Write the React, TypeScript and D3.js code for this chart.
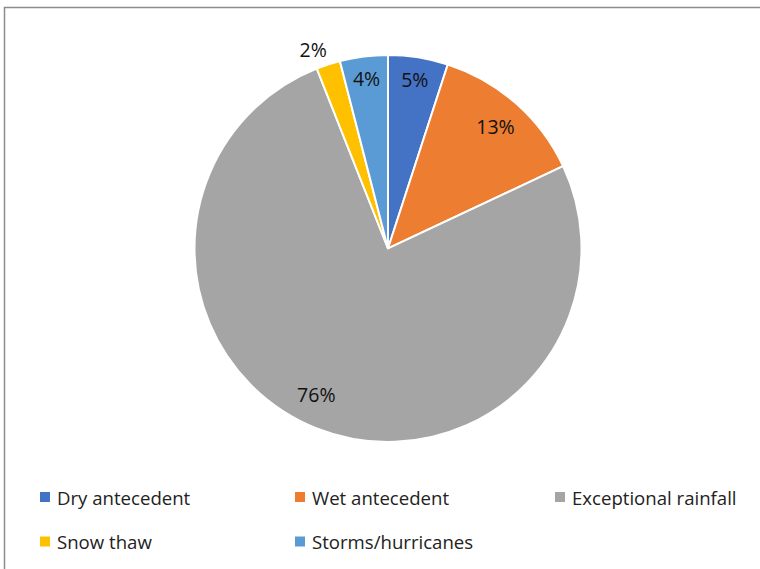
import React from "react";
import * as d3 from "d3";

const categories = ["Dry antecedent", "Wet antecedent", "Exceptional rainfall", "Snow thaw", "Storms/hurricanes"];
const values = [5, 13, 76, 2, 4];
const colors = ["#4472C4", "#ED7D31", "#A5A5A5", "#FFC000", "#5B9BD5"];
const labels = ["5%", "13%", "76%", "2%", "4%"];

export default function App() {
  const W = 760, H = 569;
  const cx = 388, cy = 248.5, r = 193.5;
  const pie = d3.pie<number>().sort(null).value((d) => d);
  const arcs = pie(values);
  const arc = d3.arc<d3.PieArcDatum<number>>().innerRadius(0).outerRadius(r);
  // label radius factor per slice (Excel best-fit placement)
  const labelK = (v: number) => (v < 3 ? 1.1 : v < 10 ? 0.885 : 0.84);
  const labelPos = (a: d3.PieArcDatum<number>) => {
    let ang = (a.startAngle + a.endAngle) / 2;
    if (a.value >= 50) ang += 0.08;
    if (a.value < 3) ang -= 0.045;
    const rr = r * labelK(a.value);
    return [Math.sin(ang) * rr, -Math.cos(ang) * rr];
  };
  const legendX = [40, 295, 555];
  const legendY = [497, 541.5];
  const font = "'Open Sans', 'Liberation Sans', sans-serif";
  return (
    <svg width={W} height={H} style={{ position: "absolute", left: 0, top: 0 }}>
      <rect x={0} y={0} width={W} height={H} fill="#fff" />
      <rect x={4.5} y={7.5} width={W + 10} height={H + 10} fill="none" stroke="#8c8c8c" strokeWidth={1.5} />
      <g transform={`translate(${cx},${cy})`}>
        {arcs.map((a, i) => (
          <path key={i} d={arc(a) || ""} fill={colors[i]} stroke="#fff" strokeWidth={2} />
        ))}
        {arcs.map((a, i) => {
          const [x, y] = labelPos(a);
          return (
            <text key={i} x={x} y={y} textAnchor="middle" dominantBaseline="central" fontFamily={font} fontSize={19.5} fill="#111">
              {labels[i]}
            </text>
          );
        })}
      </g>
      {categories.map((c, i) => {
        const col = i % 3, row = Math.floor(i / 3);
        const x = legendX[col], y = legendY[row];
        return (
          <g key={c}>
            <rect x={x} y={y - 5} width={10} height={10} fill={colors[i]} />
            <text x={x + 17} y={y} dominantBaseline="central" fontFamily={font} fontSize={18.6} fill="#222">
              {c}
            </text>
          </g>
        );
      })}
    </svg>
  );
}
